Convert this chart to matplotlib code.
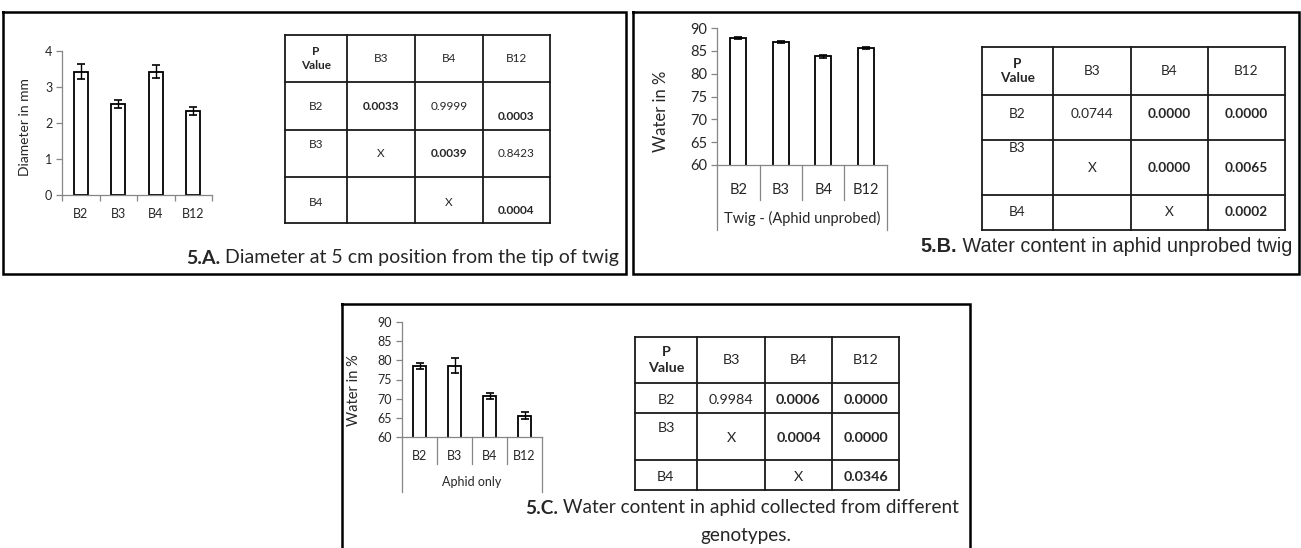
import matplotlib
matplotlib.use('Agg')
import matplotlib.pyplot as plt

plt.rcParams['font.family'] = ['Lato', 'DejaVu Sans']

W, H = 1301, 548

# bar chart data
categories = ['B2', 'B3', 'B4', 'B12']
diam_mean = [3.42, 2.52, 3.42, 2.33]
diam_err = [0.21, 0.11, 0.18, 0.11]
twig_water = [87.8, 86.9, 83.8, 85.6]
twig_err = [0.3, 0.15, 0.3, 0.2]
aphid_water = [78.6, 78.6, 70.6, 65.6]
aphid_err = [0.8, 2.0, 0.8, 0.8]

# p value tables (rows vs columns)
tbl_cols = ['B3', 'B4', 'B12']
tbl_rows = ['B2', 'B3', 'B4']
p_diam = [['0.0033', '0.9999', '0.0003'],
          ['X', '0.0039', '0.8423'],
          ['', 'X', '0.0004']]
p_twig = [['0.0744', '0.0000', '0.0000'],
          ['X', '0.0000', '0.0065'],
          ['', 'X', '0.0002']]
p_aphid = [['0.9984', '0.0006', '0.0000'],
           ['X', '0.0004', '0.0000'],
           ['', 'X', '0.0346']]

fig = plt.figure(figsize=(W / 100, H / 100), dpi=100)
bg = fig.add_axes([0, 0, 1, 1], zorder=-1)
bg.set_xlim(0, W)
bg.set_ylim(H, 0)
bg.axis('off')

AX_GRAY = '#868686'
TXT = '#262626'


def bar_panel(box, vals, errs, ylim, yticks, ylabel, ylab_pos, fs, lab_fs, group=None, seps=None):
    l, t, r, b = box
    ax = fig.add_axes([l / W, 1 - b / H, (r - l) / W, (b - t) / H])
    x = list(range(len(categories)))
    ax.bar(x, vals, width=0.38, color='white', edgecolor='black', linewidth=1.3,
           yerr=errs, capsize=3.2, error_kw=dict(elinewidth=1, capthick=1.2, ecolor='black'))
    ax.set_xlim(-0.5, len(categories) - 0.5)
    ax.set_ylim(*ylim)
    ax.set_yticks(yticks)
    for s in ['top', 'right']:
        ax.spines[s].set_visible(False)
    for s in ['left', 'bottom']:
        ax.spines[s].set_color(AX_GRAY)
        ax.spines[s].set_linewidth(0.9)
    ax.tick_params(axis='y', direction='out', length=4, width=0.9, color=AX_GRAY,
                   labelsize=fs, labelcolor=TXT, pad=3)
    ax.set_ylabel(ylabel, fontsize=lab_fs, color=TXT)
    ax.yaxis.set_label_coords(*ylab_pos)
    hpx = b - t
    if group is None:
        ax.set_xticks(x)
        ax.set_xticklabels(categories)
        ax.set_xticks([i - 0.5 for i in range(len(categories) + 1)], minor=True)
        ax.tick_params(axis='x', which='major', length=0, labelsize=fs, labelcolor=TXT, pad=9)
        ax.tick_params(axis='x', which='minor', direction='out', length=4, width=0.9, color=AX_GRAY)
    else:
        inner, outer, lab_y, grp_y = seps
        ax.set_xticks([])
        tr = ax.get_xaxis_transform()
        edges = [i - 0.5 for i in range(len(categories) + 1)]
        for e in edges:
            depth = outer if e in (edges[0], edges[-1]) else inner
            ax.plot([e, e], [0, -depth / hpx], transform=tr, color=AX_GRAY, lw=0.9, clip_on=False)
        for i, c in enumerate(categories):
            ax.text(i, -lab_y / hpx, c, transform=tr, ha='center', va='center', fontsize=fs, color=TXT)
        ax.text(0.5, -grp_y / hpx, group, transform=ax.transAxes, ha='center', va='center',
                fontsize=fs, color=TXT)
    return ax


def p_table(xs, ys, values, fs, nudges):
    for xv in xs:
        bg.plot([xv, xv], [ys[0], ys[-1]], color='#1a1a1a', lw=1.3, solid_capstyle='projecting')
    for yv in ys:
        bg.plot([xs[0], xs[-1]], [yv, yv], color='#1a1a1a', lw=1.3, solid_capstyle='projecting')
    cx = [(xs[i] + xs[i + 1]) / 2 for i in range(len(xs) - 1)]
    cy = [(ys[i] + ys[i + 1]) / 2 for i in range(len(ys) - 1)]
    bg.text(cx[0], cy[0], 'P\nValue', ha='center', va='center', fontsize=fs,
            fontweight='bold', color=TXT, linespacing=1.3)
    for j, c in enumerate(tbl_cols):
        bg.text(cx[j + 1], cy[0], c, ha='center', va='center', fontsize=fs, color=TXT)
    for i, rlab in enumerate(tbl_rows):
        dys = nudges[i]
        bg.text(cx[0], cy[i + 1] + dys[0], rlab, ha='center', va='center', fontsize=fs, color=TXT)
        for j, v in enumerate(values[i]):
            if not v:
                continue
            bold = v != 'X' and float(v) < 0.05
            bg.text(cx[j + 1], cy[i + 1] + dys[j + 1], v, ha='center', va='center', fontsize=fs,
                    fontweight='bold' if bold else 'normal', color=TXT)


def caption(x, y, bold, rest, fs, family, ha='left'):
    t = bg.text(x, y, bold, fontsize=fs, fontweight='bold', family=family, color=TXT,
                ha=ha, va='center')
    bg.annotate(' ' + rest, xy=(1, 0), xycoords=t, ha='left', va='bottom',
                fontsize=fs, family=family, color=TXT)
    return t


def box(l, t, r, b):
    bg.plot([l, r, r, l, l], [t, t, b, b, t], color='black', lw=1.8, solid_joinstyle='miter')


# panel frames
box(3, 12, 626, 274)
box(633, 12, 1299, 274)
box(342, 304, 970, H + 5)

# 5.A
bar_panel((62, 51, 212, 195), diam_mean, diam_err, (0, 4), [0, 1, 2, 3, 4],
          'Diameter in mm', (-0.205, 0.47), 9, 10)
p_table([285, 347, 415, 483, 550], [35, 82, 130, 177, 223], p_diam, 8.5,
        [[1, 1, 1, 10], [-9, 0, 0, 0], [2, 2, 2, 10]])
caption(186, 258, '5.A.', 'Diameter at 5 cm position from the tip of twig', 14, 'Lato')

# 5.B
bar_panel((717, 28, 887, 165), twig_water, twig_err, (60, 90), list(range(60, 91, 5)),
          'Water in %', (-0.28, 0.39), 10.5, 12, group='Twig - (Aphid unprobed)',
          seps=(35, 65, 25, 53))
p_table([982, 1053, 1131, 1208, 1285], [47, 95, 140, 195, 230], p_twig, 9.8,
        [[-3, -3, -3, -3], [-19, 0, 0, 0], [0, 0, 0, 0]])
caption(920, 247, '5.B.', 'Water content in aphid unprobed twig', 14.3, 'Liberation Sans')

# 5.C
bar_panel((402, 322, 542, 437), aphid_water, aphid_err, (60, 90), list(range(60, 91, 5)),
          'Water in %', (-0.29, 0.41), 9, 10.5, group='Aphid only',
          seps=(27, 55, 19, 45))
p_table([635, 697, 765, 832, 899], [337, 383, 413, 460, 490], p_aphid, 10.3,
        [[2, 2, 2, 2], [-9, 1, 1, 1], [2, 2, 2, 2]])
caption(525, 508, '5.C.', 'Water content in aphid collected from different', 13.7, 'Lato')
bg.text(746, 535, 'genotypes.', fontsize=13.7, ha='center', va='center', color=TXT)

fig.savefig('out.png', dpi=100)
